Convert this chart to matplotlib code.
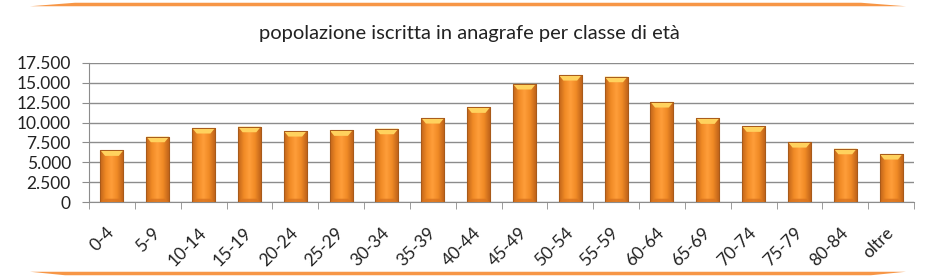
import numpy as np
import matplotlib
matplotlib.use("Agg")
from matplotlib import pyplot as plt
from matplotlib.patches import Polygon
from matplotlib.colors import LinearSegmentedColormap
from matplotlib.ticker import FuncFormatter, MultipleLocator

# Data: resident population by age class
classi = ['0-4', '5-9', '10-14', '15-19', '20-24', '25-29', '30-34', '35-39',
          '40-44', '45-49', '50-54', '55-59', '60-64', '65-69', '70-74',
          '75-79', '80-84', 'oltre']
popolazione = [6520, 8230, 9320, 9480, 8940, 9030, 9230, 10570,
               11910, 14840, 15960, 15750, 12580, 10530, 9530,
               7560, 6720, 6060]

plt.rcParams['font.family'] = ['Lato', 'DejaVu Sans']

W, H = 939, 278
fig = plt.figure(figsize=(W / 100, H / 100), dpi=100)
ax = fig.add_axes([0.0948, 0.2723, 0.8786, 0.5022])

x = np.arange(len(classi))
bw = 0.5
bars = ax.bar(x, popolazione, width=bw, color='#F7932B', edgecolor='#B0601C',
              linewidth=0.8, zorder=3)

# Horizontal gradient inside each bar (dark edges, light centre)
cmap = LinearSegmentedColormap.from_list(
    'bar', ['#C0641A', '#F08A25', '#FF9E3A', '#F08A25', '#C0641A'])
grad = np.linspace(0, 1, 64).reshape(1, -1)
for b in bars:
    x0 = b.get_x()
    h = b.get_height()
    im = ax.imshow(grad, cmap=cmap, aspect='auto', zorder=3.5,
                   extent=(x0, x0 + bw, 0, h), interpolation='bicubic')
    im.set_clip_path(b)
    # light bevel on top, slightly darker one at the bottom
    ax.fill([x0, x0 + bw, x0 + bw * 0.8, x0 + bw * 0.2],
            [h, h, h - 700, h - 700], color='#FFD25E', zorder=4, lw=0)
    ax.fill([x0, x0 + bw, x0 + bw * 0.8, x0 + bw * 0.2],
            [0, 0, 450, 450], color='#D9741F', alpha=0.8, zorder=4, lw=0)
    ax.plot([x0, x0 + bw, x0 + bw, x0, x0], [0, 0, h, h, 0],
            color='#A85A1A', lw=0.7, zorder=5)

ax.set_xlim(-0.5, len(classi) - 0.5)
ax.set_ylim(0, 17500)
ax.yaxis.set_major_locator(MultipleLocator(2500))
ax.yaxis.set_major_formatter(FuncFormatter(lambda v, p: f"{int(v):,}".replace(',', '.')))
ax.grid(axis='y', color='#8C8C8C', lw=1.0, zorder=0)
for s in ['top', 'right']:
    ax.spines[s].set_visible(False)
ax.spines['left'].set_color('#8C8C8C')
ax.spines['bottom'].set_color('#8C8C8C')
ax.set_xticks(np.arange(len(classi) + 1) - 0.5, minor=True)
ax.set_xticks(x)
ax.set_xticklabels(classi, rotation=45, ha='right', va='center',
                   rotation_mode='anchor', fontsize=12.5, color='#222222')
ax.tick_params(axis='x', which='major', length=0, pad=20)
ax.tick_params(axis='x', which='minor', length=5, color='#8C8C8C', direction='out')
ax.tick_params(axis='y', length=5, color='#8C8C8C', labelsize=12.5, pad=8,
               labelcolor='#222222')

fig.text(0.5, 1 - 34 / H, 'popolazione iscritta in anagrafe per classe di età',
         ha='center', va='center', fontsize=14.5, color='#222222')


# orange decorative lines top and bottom, tapered at the ends
def banda(yc, x_a, x_b, t, taper, tip_below=True):
    s = 1 if tip_below else -1
    pts = [(x_a, yc + s * t / 2), (x_a + taper, yc - s * t / 2),
           (x_b - taper, yc - s * t / 2), (x_b, yc + s * t / 2)]
    pts = [(px / W, 1 - py / H) for px, py in pts]
    fig.patches.append(Polygon(pts, closed=True, transform=fig.transFigure,
                               facecolor='#F79646', edgecolor='none'))


banda(4.5, 30, 906, 3.5, 45, tip_below=True)
banda(273.5, 30, 906, 3.5, 35, tip_below=False)

fig.savefig('out.png', dpi=100)
